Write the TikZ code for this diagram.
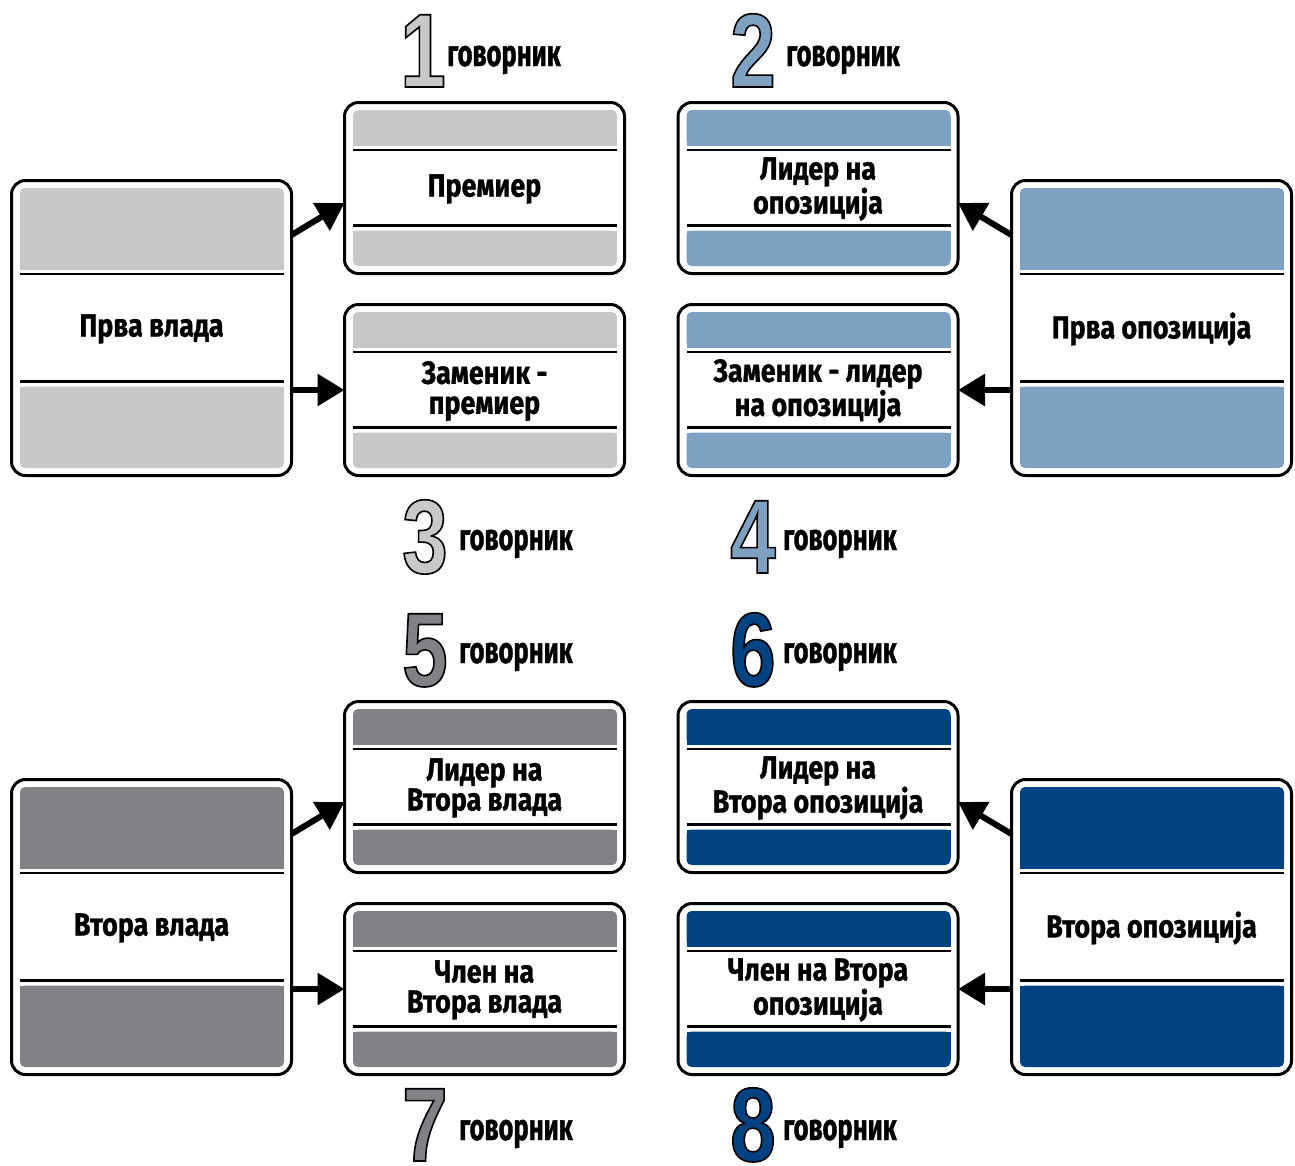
\documentclass[tikz,border=0pt]{standalone}
\usepackage{fontspec}
\setmainfont{Fira Sans}
\newfontfamily\boxfont[FakeStretch=0.84,FakeBold=1]{Fira Sans}
\newfontfamily\labfont[FakeStretch=0.69,FakeBold=1]{Fira Sans}
\newfontfamily\digfont[FakeStretch=0.78]{Liberation Sans}
\usetikzlibrary{arrows.meta,calc}
\definecolor{lgray}{HTML}{C7C8CA}
\definecolor{lblue}{HTML}{7FA1C1}
\definecolor{dgray}{HTML}{808285}
\definecolor{dblue}{HTML}{004282}
\tikzset{
  panel/.style={draw=black, line width=3pt, rounded corners=14pt, fill=white, inner sep=0pt, outer sep=0pt},
  sepline/.style={draw=black, line width=2.5pt},
  boxtext/.style={align=center, inner sep=0pt, font=\boxfont\bfseries\fontsize{32}{30}\selectfont},
  lab/.style={anchor=base west, inner sep=0pt, font=\labfont\bfseries\fontsize{37}{37}\selectfont},
  dig/.style={anchor=base west, inner sep=0pt, font=\digfont\bfseries\fontsize{105}{105}\selectfont},
  arr/.style={line width=6pt, -{Triangle[length=27pt,width=31pt]}}
}
\newcommand\numtext[2]{{\color{#1}\special{pdf:literal direct 0 0 0 RG 2 Tr 1.6 w}#2\special{pdf:literal direct 0 Tr}}}
% name, cx, cy, w, h, band depth, colour, text
\newcommand\panel[8]{%
  \pgfmathsetmacro\pL{#2-#4/2}\pgfmathsetmacro\pR{#2+#4/2}%
  \pgfmathsetmacro\pT{#3-#5/2}\pgfmathsetmacro\pB{#3+#5/2}%
  \pgfmathsetmacro\iL{\pL+8.5}\pgfmathsetmacro\iR{\pR-7.5}%
  \pgfmathsetmacro\bTt{\pT+7.5}\pgfmathsetmacro\bTb{\pT+#6}%
  \pgfmathsetmacro\lT{\pT+#6+4.5}%
  \pgfmathsetmacro\bBb{\pB-7.5}\pgfmathsetmacro\bBt{\pB-#6}%
  \pgfmathsetmacro\lB{\pB-#6-5}%
  \node[panel, minimum width=#4pt, minimum height=#5pt] (#1) at (#2,#3) {};
  \fill[#7, rounded corners=5pt] (\iL,\bTt) rectangle (\iR,\bTb);
  \fill[#7] (\iL,\bTt+7) rectangle (\iR,\bTb);
  \fill[#7, rounded corners=5pt] (\iL,\bBt) rectangle (\iR,\bBb);
  \fill[#7] (\iL,\bBt) rectangle (\iR,\bBb-7);
  \draw[sepline] (\iL,\lT) -- (\iR,\lT);
  \draw[sepline] (\iL,\lB) -- (\iR,\lB);
  \node[boxtext] (#1-t) at (#2,#3+1) {#8};
}
\begin{document}
\begin{tikzpicture}[x=1pt,y=-1pt]
\useasboundingbox (0,0) rectangle (1295,1165);
\fill[white] (0,0) rectangle (1295,1165);

% ---------- top half ----------
\panel{pv1}{151.5}{328}{280}{295}{89}{lgray}{Прва влада}
\panel{pp1}{484.5}{188}{280}{171}{43}{lgray}{Премиер}
\panel{pz1}{484.5}{390}{280}{171}{43}{lgray}{Заменик -\\премиер}
\panel{oo1}{1151.5}{328}{280}{295}{89}{lblue}{Прва опозиција}
\panel{ol1}{818}{188}{280}{171}{43}{lblue}{Лидер на\\опозиција}
\panel{oz1}{818}{390}{280}{171}{43}{lblue}{Заменик - лидер\\на опозиција}

\draw[arr] ($(pv1.east)+(0,-93)$) -- ($(pp1.west)+(0,15)$);
\draw[arr] (pv1.east |- pz1.west) -- (pz1.west);
\draw[arr] ($(oo1.west)+(0,-93)$) -- ($(ol1.east)+(0,15)$);
\draw[arr] (oo1.west |- oz1.east) -- (oz1.east);

% ---------- bottom half ----------
\panel{vv2}{151.5}{927}{280}{295}{89}{dgray}{Втора влада}
\panel{vl2}{484.5}{787}{280}{171}{43}{dgray}{Лидер на\\Втора влада}
\panel{vc2}{484.5}{989}{280}{171}{43}{dgray}{Член на\\Втора влада}
\panel{ov2}{1151.5}{927}{280}{295}{89}{dblue}{Втора опозиција}
\panel{ol2}{818}{787}{280}{171}{43}{dblue}{Лидер на\\Втора опозиција}
\panel{oc2}{818}{989}{280}{171}{43}{dblue}{Член на Втора\\опозиција}

\draw[arr] ($(vv2.east)+(0,-93)$) -- ($(vl2.west)+(0,15)$);
\draw[arr] (vv2.east |- vc2.west) -- (vc2.west);
\draw[arr] ($(ov2.west)+(0,-93)$) -- ($(ol2.east)+(0,15)$);
\draw[arr] (ov2.west |- oc2.east) -- (oc2.east);

% ---------- speaker numbers ----------
\node[dig] (n1) at (400,87) {\numtext{lgray}{1}};
\node[lab] (g1) at (447,66) {говорник};
\node[dig] (n2) at (730,87) {\numtext{lblue}{2}};
\node[lab] (g2) at (786,66) {говорник};
\node[dig] (n3) at (402,573) {\numtext{lgray}{3}};
\node[lab] (g3) at (459,550) {говорник};
\node[dig] (n4) at (730,573) {\numtext{lblue}{4}};
\node[lab] (g4) at (783,550) {говорник};
\node[dig] (n5) at (402,686) {\numtext{dgray}{5}};
\node[lab] (g5) at (459,663) {говорник};
\node[dig] (n6) at (730,686) {\numtext{dblue}{6}};
\node[lab] (g6) at (783,663) {говорник};
\node[dig] (n7) at (402,1161) {\numtext{dgray}{7}};
\node[lab] (g7) at (459,1140) {говорник};
\node[dig] (n8) at (730,1161) {\numtext{dblue}{8}};
\node[lab] (g8) at (783,1140) {говорник};
\end{tikzpicture}
\end{document}
